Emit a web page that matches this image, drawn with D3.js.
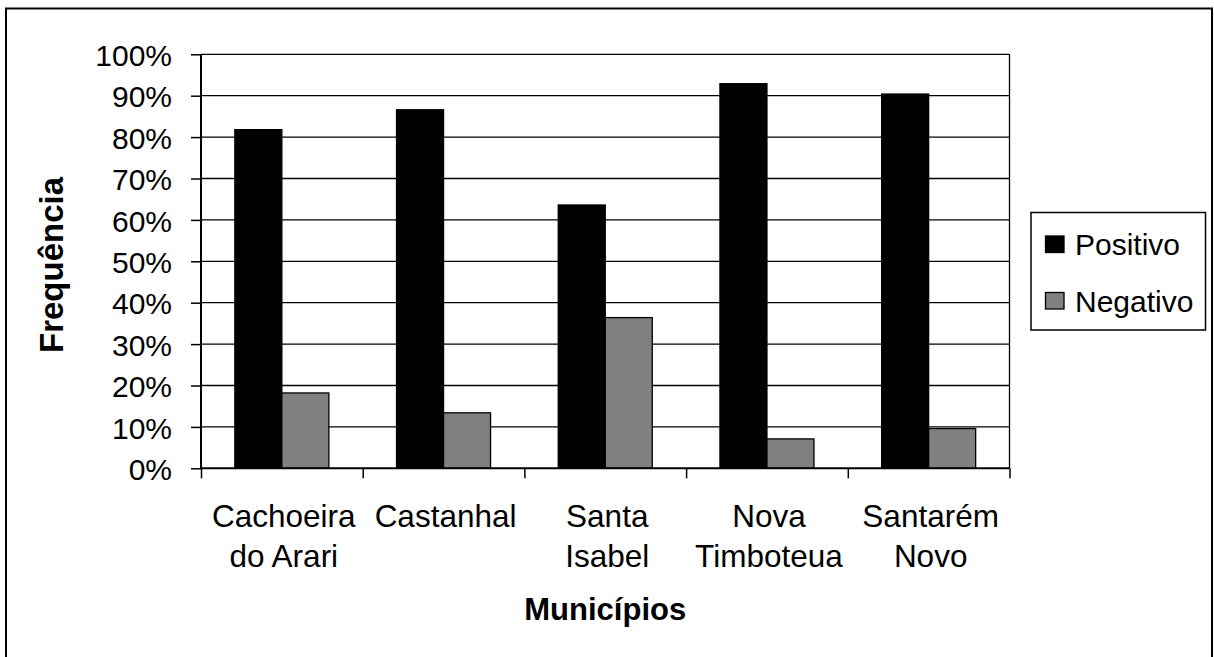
<!DOCTYPE html>
<html><head><meta charset="utf-8">
<script src="https://cdn.jsdelivr.net/npm/d3@7"></script>
<style>
html,body{margin:0;padding:0;background:#fff;}
svg{display:block;font-family:"Liberation Sans",Arial,sans-serif;}
</style></head><body>
<svg id="c" width="1214" height="657"></svg>
<script>
const categories = [["Cachoeira","do Arari"],["Castanhal"],["Santa","Isabel"],["Nova","Timboteua"],["Santarém","Novo"]];
const seriesNames = ["Positivo","Negativo"];
const positivo = [81.8, 86.6, 63.6, 92.9, 90.4];
const negativo = [18.2, 13.4, 36.4, 7.1, 9.6];
const yTicks = [0,10,20,30,40,50,60,70,80,90,100];
const colors = ["#000000","#808080"];

const svg = d3.select("#c");
const L = 201, R = 1009.5, T = 54.3, B = 468.3;

// outer border
svg.append("rect").attr("x",6).attr("y",8.5).attr("width",1206).attr("height",700)
  .attr("fill","none").attr("stroke","#000").attr("stroke-width",2);

const catIdx = categories.map((d,i)=>i);
const x = d3.scaleBand().domain(catIdx).range([L,R]).paddingInner(0).paddingOuter(0);
const xs = d3.scaleBand().domain(seriesNames).range([0,x.bandwidth()]).paddingInner(0).paddingOuter(0.72);
const y = d3.scaleLinear().domain([0,100]).range([B,T]);

// gridlines
svg.append("g").selectAll("line").data(yTicks.filter(t=>t>0)).join("line")
  .attr("x1",L).attr("x2",R).attr("y1",d=>y(d)).attr("y2",d=>y(d))
  .attr("stroke","#000").attr("stroke-width",1.3);
// right border
svg.append("line").attr("x1",R).attr("x2",R).attr("y1",T).attr("y2",B)
  .attr("stroke","#000").attr("stroke-width",1.3);

// bars
const data = catIdx.map(i=>({i, vals:[positivo[i], negativo[i]]}));
const g = svg.append("g").selectAll("g").data(data).join("g")
  .attr("transform",d=>`translate(${x(d.i)},0)`);
g.selectAll("rect").data(d=>d.vals.map((v,k)=>({v,k}))).join("rect")
  .attr("x",d=>xs(seriesNames[d.k])).attr("width",xs.bandwidth())
  .attr("y",d=>y(d.v)).attr("height",d=>y(0)-y(d.v))
  .attr("fill",d=>colors[d.k]).attr("stroke","#000").attr("stroke-width",1.3);

// y axis
const yAxis = d3.axisLeft(y).tickValues(yTicks).tickFormat(d=>d+"%").tickSize(10).tickPadding(19);
const ya = svg.append("g").attr("transform",`translate(${L},0)`).call(yAxis);
ya.select(".domain").attr("stroke-width",2).attr("d",`M0,${T}V${B}`);
ya.selectAll(".tick line").attr("stroke-width",1.5);
ya.selectAll(".tick text").attr("font-size",30).attr("fill","#000")
  .attr("font-family",'"Liberation Sans",Arial,sans-serif').attr("dy","0.37em");

// x axis
const xb = d3.scaleLinear().domain([0,categories.length]).range([L,R]);
const xa = svg.append("g").attr("transform",`translate(0,${B})`)
  .call(d3.axisBottom(xb).tickValues(d3.range(categories.length+1)).tickSize(10).tickFormat(""));
xa.select(".domain").attr("stroke-width",2).attr("d",`M${L},0H${R}`);
xa.selectAll(".tick line").attr("stroke-width",1.5);

// category labels
const cl = svg.append("g").selectAll("text").data(data).join("text")
  .attr("x",d=>x(d.i)+x.bandwidth()/2+2).attr("y",527)
  .attr("text-anchor","middle").attr("font-size",31.5).attr("fill","#000");
cl.selectAll("tspan").data(d=>categories[d.i]).join("tspan")
  .attr("x",function(){return this.parentNode.getAttribute("x");})
  .attr("dy",(d,k)=>k===0?0:39.5).text(d=>d);

// axis titles
svg.append("text").attr("x",(L+R)/2).attr("y",620).attr("text-anchor","middle")
  .attr("font-size",31).attr("font-weight","bold").text("Municípios");
svg.append("text").attr("transform","translate(63,265) rotate(-90)").attr("text-anchor","middle")
  .attr("font-size",33).attr("font-weight","bold").text("Frequência");

// legend
const lg = svg.append("g");
lg.append("rect").attr("x",1031).attr("y",212.5).attr("width",174.5).attr("height",117.5)
  .attr("fill","#fff").attr("stroke","#000").attr("stroke-width",1.5);
const li = lg.selectAll("g").data(seriesNames).join("g")
  .attr("transform",(d,k)=>`translate(0,${k*56.5})`);
li.append("rect").attr("x",1045.5).attr("y",236).attr("width",18.5).attr("height",16.5)
  .attr("fill",(d,k)=>colors[k]).attr("stroke","#000").attr("stroke-width",1.3);
li.append("text").attr("x",1075).attr("y",255).attr("font-size",30).text(d=>d);
</script>
</body></html>
